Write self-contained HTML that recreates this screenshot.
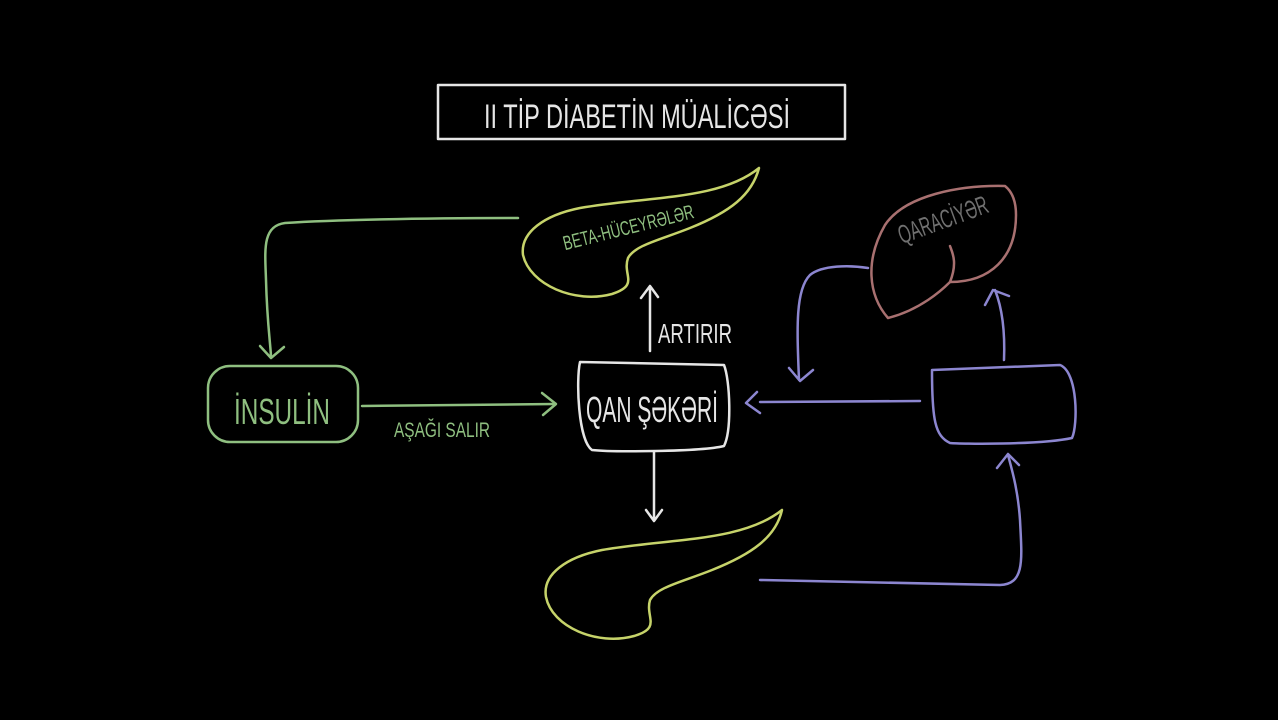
<!DOCTYPE html>
<html><head><meta charset="utf-8"><style>
html,body{margin:0;padding:0;background:#000;width:1278px;height:720px;overflow:hidden}
text{font-family:"Liberation Sans",sans-serif}
</style></head><body>
<svg width="1278" height="720" viewBox="0 0 1278 720" xmlns="http://www.w3.org/2000/svg">
<rect width="1278" height="720" fill="#000"/>
<g fill="none" stroke-linecap="round" stroke-linejoin="round" stroke-width="2.5">
<rect x="438" y="85" width="407" height="54" stroke="#e6e6e6" stroke-width="2.5"/>
<path d="M759,168 C752,195 730,212 690,228 C660,240 635,245 628,258 C622,275 640,285 612,294 C575,304 530,285 523,255 C520,232 545,215 580,208 C650,196 720,200 759,168 Z" stroke="#c6d36a"/>
<path d="M782,510 C776,537 752,554 712,570 C682,582 657,587 650,600 C645,617 662,628 634,636 C597,646 552,627 546,597 C542,574 567,557 602,550 C672,538 742,542 782,510 Z" stroke="#c6d36a"/>
<path d="M1005,186 C960,185 905,195 885,225 C865,260 868,295 888,318 C920,310 942,290 950,282 C990,282 1016,258 1016,215 C1016,198 1010,190 1005,186 Z" stroke="#a87070"/>
<path d="M950,282 C958,262 952,252 950,246" stroke="#a87070"/>
<path d="M518,218 C420,218 330,220 285,223 C262,226 265,250 266,280 C267,320 270,340 271,356" stroke="#8fbf80"/>
<path d="M260,346 L271,358 L284,347" stroke="#8fbf80"/>
<rect x="208" y="366" width="150" height="76" rx="22" stroke="#8fbf80"/>
<path d="M362,406 L555,404" stroke="#8fbf80"/>
<path d="M542,393 L556,404 L543,415" stroke="#8fbf80"/>
<path d="M580,362 L724,365 C730,380 732,430 724,446 C700,452 610,452 592,450 C578,440 576,380 580,362 Z" stroke="#e6e6e6"/>
<path d="M650,351 L650,287 M641,298 L650,286 L658,297" stroke="#e6e6e6"/>
<path d="M654,452 L654,520 M646,510 L654,521 L662,510" stroke="#e6e6e6"/>
<path d="M932,370 L1060,365 C1078,372 1078,425 1072,438 C1040,445 960,444 950,443 C935,436 932,420 932,370 Z" stroke="#8c86d0"/>
<path d="M920,401 L760,402 M757,392 L746,403 L760,413" stroke="#8c86d0"/>
<path d="M868,268 C850,265 822,265 810,275 C795,290 797,330 799,380 M789,368 L800,381 L813,370" stroke="#8c86d0"/>
<path d="M1004,360 C1005,335 1003,310 995,290 M985,305 L993,290 L1009,296" stroke="#8c86d0"/>
<path d="M760,580 L1000,585 C1025,584 1022,560 1020,520 C1018,490 1012,470 1008,455 M997,468 L1008,454 L1019,465" stroke="#8c86d0"/>
</g>
<text x="637" y="128" fill="#e6e6e6" font-size="34" text-anchor="middle" textLength="306" lengthAdjust="spacingAndGlyphs">II TİP DİABETİN MÜALİCƏSİ</text>
<text x="282" y="424" fill="#8fbf80" font-size="36" text-anchor="middle" textLength="96" lengthAdjust="spacingAndGlyphs">İNSULİN</text>
<text x="442" y="437" fill="#8fbf80" font-size="21" text-anchor="middle" textLength="96" lengthAdjust="spacingAndGlyphs">AŞAĞI SALIR</text>
<text x="652" y="422" fill="#e6e6e6" font-size="36" text-anchor="middle" textLength="132" lengthAdjust="spacingAndGlyphs">QAN ŞƏKƏRİ</text>
<text x="695" y="343" fill="#e6e6e6" font-size="28" text-anchor="middle" textLength="74" lengthAdjust="spacingAndGlyphs">ARTIRIR</text>
<text x="630" y="234" fill="#8fbf80" font-size="20" text-anchor="middle" textLength="134" lengthAdjust="spacingAndGlyphs" transform="rotate(-14 630 234)">BETA-HÜCEYRƏLƏR</text>
<text x="946" y="228" fill="#707070" font-size="26" text-anchor="middle" textLength="94" lengthAdjust="spacingAndGlyphs" transform="rotate(-20 946 228)">QARACİYƏR</text>
</svg>
</body></html>
